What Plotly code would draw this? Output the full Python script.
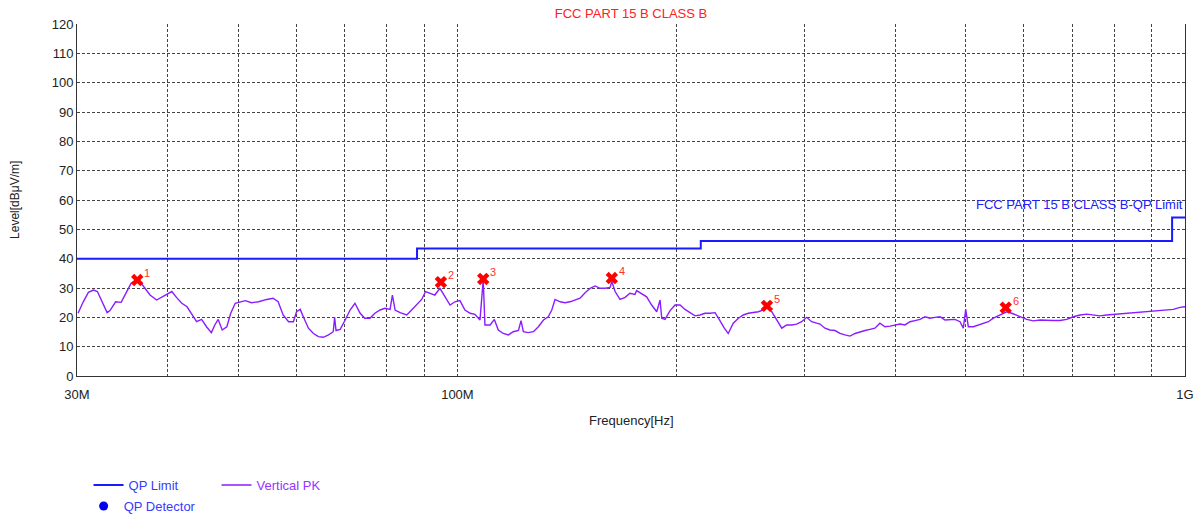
import math
import plotly.graph_objects as go

# ---------------- data ----------------
limit_freq_mhz = [30, 88, 216, 960, 1000]
limit_level = [40, 43.5, 46, 54, 54]

pk_freq_mhz = [
    30.1, 30.6, 31.1, 31.6, 32.0, 32.5, 33.0, 33.3, 33.9, 34.5,
    35.1, 35.6, 36.2, 36.6, 37.2, 37.8, 38.6, 39.2, 39.8, 40.5,
    41.1, 41.8, 42.5, 43.1, 43.8, 44.5, 45.2, 45.9, 46.4, 46.9,
    47.5, 48.2, 48.8, 49.5, 50.2, 51.1, 52.1, 53.3,
    54.7, 55.8, 56.7, 57.6, 58.6, 59.5, 60.1, 60.8, 61.4, 62.4,
    63.4, 64.4, 65.4, 66.5, 67.5, 67.8, 68.1, 69.0, 70.1, 71.2,
    72.3, 73.5, 74.6, 75.8, 77.0, 78.3, 79.5, 80.8, 81.4, 82.1,
    83.4, 85.2, 86.5, 87.9, 89.3, 90.4, 91.7, 93.1, 94.6, 96.1, 97.7,
    99.2, 100.8, 102.4, 104.1, 105.7, 107.4, 108.5, 109.1, 110.9, 112.4,
    113.8, 115.6, 117.5, 119.3, 121.3, 122.3, 123.2, 125.1, 127.2, 129.2,
    131.3, 133.3, 134.8, 136.2, 138.4, 140.6, 142.8, 145.1, 147.4, 149.8,
    152.2, 154.6, 157.1, 159.6, 162.1, 163.0, 164.7, 167.3, 170.0, 172.6, 175.4,
    176.3, 179.2, 182.0, 184.9, 187.9, 189.9, 190.9, 192.9, 196.0, 199.1,
    202.3, 205.5, 208.8, 212.1, 215.5, 218.9, 222.4, 226.0, 229.5, 232.7,
    235.6, 239.4, 243.3, 247.1, 251.1, 255.1, 259.2, 263.3, 266.1, 270.4,
    274.7, 279.1, 283.5, 288.1, 292.6, 297.2, 302.0, 306.8, 311.7,
    315.0, 320.0, 325.1, 330.3, 335.6, 340.9, 346.4, 352.0, 357.5, 363.2,
    369.0, 374.8, 380.8, 386.9, 393.1, 399.4, 405.8, 412.2, 418.8, 425.5,
    432.3, 439.2, 446.2, 453.3, 460.6, 467.9, 475.3, 482.9, 490.7, 495.8,
    499.6, 503.7, 511.8, 519.9, 528.2, 536.7, 545.2, 553.9, 562.8,
    568.9, 577.9, 587.2, 596.6, 606.0, 618.8, 632.1, 645.6, 659.3, 673.4,
    687.8, 702.4, 717.4, 732.8, 748.3, 764.0, 780.4, 796.9, 814.0, 831.4,
    849.0, 867.2, 885.8, 904.5, 923.9, 943.7, 963.6, 984.3, 1000,
]
pk_level = [
    21.4, 25.3, 28.5, 29.3, 28.8, 25.3, 21.6, 22.3, 25.3, 25.1,
    28.8, 31.6, 32.7, 32.2, 29.9, 27.6, 25.9, 26.8, 27.8, 28.8,
    26.8, 24.8, 23.6, 21.4, 18.5, 19.3, 16.8, 14.8, 17.4, 19.3,
    15.7, 16.8, 21.4, 24.8, 25.3, 25.7, 25.0, 25.3,
    26.1, 26.5, 25.3, 20.8, 18.5, 18.5, 21.9, 22.7, 20.2, 16.3,
    14.5, 13.4, 13.2, 14.0, 15.1, 20.0, 15.5, 15.9, 19.1, 22.5,
    24.8, 21.4, 19.7, 19.7, 21.4, 22.5, 23.1, 22.7, 27.6, 22.5,
    21.6, 20.8, 22.5, 24.5, 26.1, 28.8, 28.2, 27.6, 29.9, 27.0, 24.2,
    25.3, 25.7, 22.5, 21.4, 21.0, 19.1, 32.8, 17.4, 17.4, 19.3,
    15.7, 14.5, 14.0, 15.1, 15.5, 18.9, 15.1, 14.8, 15.1, 16.8,
    19.1, 20.2, 22.5, 26.1, 25.3, 25.0, 25.3, 25.9, 26.5, 28.4,
    29.9, 30.7, 29.9, 29.9, 30.2, 32.2, 28.8, 26.1, 26.8, 28.2, 27.8,
    29.1, 28.0, 27.0, 24.2, 21.9, 25.9, 19.7, 19.3, 22.3, 24.2,
    24.2, 22.7, 21.6, 20.5, 20.8, 21.4, 21.4, 21.6, 18.9, 16.3,
    14.5, 18.0, 19.7, 20.8, 21.4, 21.6, 21.9, 22.5, 23.6, 21.9,
    19.1, 16.3, 17.4, 17.4, 17.7, 18.5, 20.0, 18.5, 18.0,
    17.7, 16.3, 15.7, 15.5, 14.5, 14.0, 13.6, 14.5, 15.1, 15.5,
    15.9, 16.3, 18.0, 16.8, 17.0, 17.4, 17.7, 17.4, 18.5, 18.9,
    19.3, 20.2, 19.7, 20.0, 20.2, 19.1, 19.1, 19.3, 18.5, 16.3,
    22.7, 16.8, 16.8, 17.4, 18.0, 18.5, 19.7, 20.5, 21.4,
    21.9, 21.4, 20.8, 20.0, 19.3, 18.8, 19.1, 18.9, 18.9, 18.9,
    19.3, 20.2, 20.8, 21.1, 20.8, 20.5, 20.8, 21.0, 21.1, 21.4,
    21.6, 21.9, 21.9, 22.3, 22.5, 22.5, 22.7, 23.4, 23.6,
]

marker_freq_mhz = [36.3, 94.9, 108.5, 163.0, 266.3, 567.0]
marker_level = [32.7, 32.0, 33.1, 33.4, 23.9, 23.3]
marker_labels = ["1", "2", "3", "4", "5", "6"]

grid_freq_mhz = [30, 40, 50, 60, 70, 80, 90, 100, 200, 300, 400, 500,
                 600, 700, 800, 900, 1000]
grid_labels = ["30M", "", "", "", "", "", "", "100M", "", "", "", "",
               "", "", "", "", "1G"]
y_ticks = list(range(0, 121, 10))

title_text = "FCC PART 15 B CLASS B"
limit_label = "FCC PART 15 B CLASS B-QP Limit"
x_title = "Frequency[Hz]"
y_title = "Level[dBμV/m]"

# ---------------- figure ----------------
MHZ = 1e6
FONT = "Liberation Sans, Arial, sans-serif"
BLUE = "#1a1aff"
PURPLE = "#8a1cff"

fig = go.Figure()

fig.add_trace(go.Scatter(
    x=[f * MHZ for f in limit_freq_mhz], y=limit_level,
    mode="lines", line=dict(color=BLUE, width=2, shape="hv"),
    name="<span style='color:#3a3aff'>QP Limit</span>", legend="legend",
    hoverinfo="skip",
))
fig.add_trace(go.Scatter(
    x=[f * MHZ for f in pk_freq_mhz], y=pk_level,
    mode="lines", line=dict(color=PURPLE, width=1.4),
    name="<span style='color:#9a33ff'>Vertical PK</span>", legend="legend",
))
fig.add_trace(go.Scatter(
    x=[f * MHZ for f in marker_freq_mhz], y=marker_level,
    mode="markers",
    marker=dict(symbol="x", size=11, color="#ff0000", line=dict(width=0)),
    showlegend=False,
))
fig.add_trace(go.Scatter(
    x=[None], y=[None], mode="markers",
    marker=dict(symbol="circle", size=9, color="#0000ee"),
    name="<span style='color:#3a3aff'>QP Detector</span>", legend="legend2",
))

# marker number labels
for f, lv, lab in zip(marker_freq_mhz, marker_level, marker_labels):
    fig.add_annotation(
        x=math.log10(f * MHZ), xref="x", y=lv, yref="y", text=lab,
        showarrow=False, xanchor="left", yanchor="middle", xshift=5, yshift=7,
        font=dict(color="#ff3030", size=11, family=FONT),
    )

fig.add_annotation(
    x=9.0, xref="x", y=58.6, yref="y", text=limit_label, showarrow=False,
    xanchor="right", yanchor="middle",
    font=dict(color="#2020ff", size=13, family=FONT),
)
fig.add_annotation(
    x=0.5, xref="paper", y=-0.125, yref="paper", text=x_title,
    showarrow=False, xanchor="center", yanchor="middle",
    font=dict(color="#222222", size=13, family=FONT),
)
fig.add_annotation(
    x=-0.056, xref="paper", y=0.5, yref="paper", text=y_title,
    showarrow=False, xanchor="center", yanchor="middle", textangle=-90,
    font=dict(color="#222222", size=12, family=FONT),
)

grid_style = dict(showgrid=True, gridcolor="#444444", gridwidth=1,
                  griddash="3px,2px")

fig.update_layout(
    width=1196, height=509,
    margin=dict(l=69, r=19, t=16, b=141),
    paper_bgcolor="white", plot_bgcolor="white",
    font=dict(family=FONT, size=13, color="#222222"),
    title=dict(text=title_text, x=0.5, xref="paper", xanchor="center",
               y=1 - 5 / 509, yref="container", yanchor="middle",
               font=dict(color="#ff2020", size=13, family=FONT)),
    xaxis=dict(
        type="log", range=[math.log10(30e6), 9.0],
        tickvals=[f * MHZ for f in grid_freq_mhz],
        ticktext=grid_labels, ticks="outside", ticklen=6,
        tickcolor="rgba(0,0,0,0)", showline=True, linecolor="#333333",
        linewidth=1, zeroline=False, mirror=False, automargin=False,
        tickfont=dict(size=13, color="#222222"),
        **grid_style,
    ),
    yaxis=dict(
        range=[0, 120], tickvals=y_ticks, ticks="", showline=True,
        linecolor="#333333", linewidth=1, mirror=True, zeroline=False,
        automargin=False,
        tickfont=dict(size=13, color="#222222"),
        **grid_style,
    ),
    legend=dict(orientation="h", x=0.0104, xanchor="left",
                y=1 - 477 / 509, yref="container", yanchor="middle",
                entrywidth=83, entrywidthmode="pixels",
                font=dict(size=13, family=FONT), bgcolor="rgba(0,0,0,0)",
                itemwidth=30),
    legend2=dict(orientation="h", x=0.006, xanchor="left",
                 y=1 - 498 / 509, yref="container", yanchor="middle",
                 font=dict(size=13, family=FONT),
                 bgcolor="rgba(0,0,0,0)", itemwidth=30),
    showlegend=True,
)

fig.write_html("out.html")
